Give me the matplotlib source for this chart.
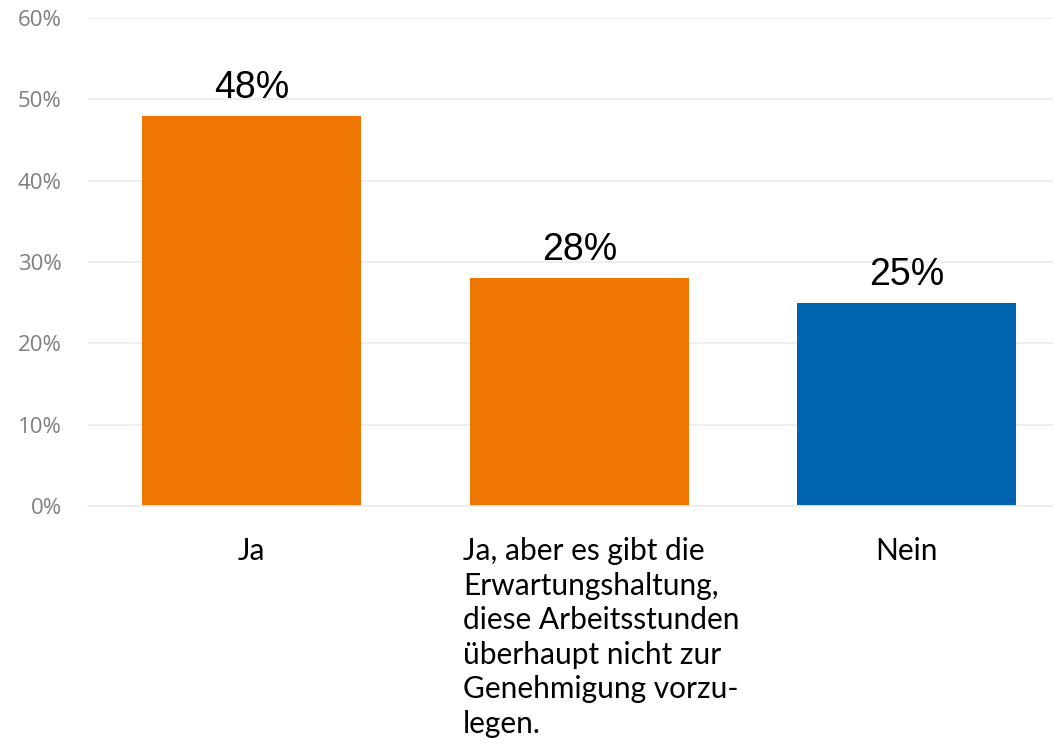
import matplotlib
matplotlib.use("Agg")
import matplotlib.pyplot as plt
import matplotlib.transforms as mtransforms

# ============================================
# Data
# ============================================
categories = [
    "Ja",
    "Ja, aber es gibt die\nErwartungshaltung,\ndiese Arbeitsstunden\nüberhaupt nicht zur\nGenehmigung vorzu-\nlegen.",
    "Nein",
]
values = [48, 28, 25]
value_labels = ["48%", "28%", "25%"]
yticks = [0, 10, 20, 30, 40, 50, 60]
ytick_labels = ["0%", "10%", "20%", "30%", "40%", "50%", "60%"]

ORANGE = "#EE7601"
BLUE = "#0063AF"
bar_colors = [ORANGE, ORANGE, BLUE]

# ============================================
# Figure
# ============================================
W, H = 1053, 751
fig = plt.figure(figsize=(W / 100, H / 100), dpi=100)
ax = fig.add_axes([88 / W, 1 - 506 / H, 982.5 / W, 488 / H])

x = list(range(len(categories)))
ax.bar(x, values, width=0.669, color=bar_colors, zorder=2)

ax.set_xlim(-0.5, 2.5)
ax.set_ylim(0, 60)
ax.set_yticks(yticks)
ax.set_yticklabels(ytick_labels, fontsize=16, color="#7F7F7F",
                   family=["Open Sans", "DejaVu Sans"])
ax.tick_params(axis="y", length=0, pad=19)
ax.grid(axis="y", color="#EDEDED", linewidth=1.3, zorder=0)
for s in ax.spines.values():
    s.set_visible(False)
ax.spines["bottom"].set_visible(True)
ax.spines["bottom"].set_color("#EDEDED")
ax.spines["bottom"].set_linewidth(1.3)

# value labels above bars
for xi, v, lab in zip(x, values, value_labels):
    ax.annotate(lab, (xi, v), xytext=(0, 13), textcoords="offset points",
                ha="center", va="baseline", fontsize=27,
                family=["Liberation Sans", "DejaVu Sans"], color="black")

# category labels
ax.set_xticks(x)
ax.set_xticklabels([])
ax.tick_params(axis="x", length=0)
blend = mtransforms.blended_transform_factory(ax.transData, ax.transAxes)
for xi, cat in zip(x, categories):
    dx = 22 if "\n" in cat else 0
    tr = mtransforms.offset_copy(blend, fig=fig, x=dx, y=-31, units="dots")
    ax.text(xi, 0, cat, transform=tr,
            ha="center", va="top", multialignment="left", fontsize=21.5,
            family=["Lato", "DejaVu Sans"], color="black", linespacing=1.285)

fig.savefig("out.png", dpi=100)
